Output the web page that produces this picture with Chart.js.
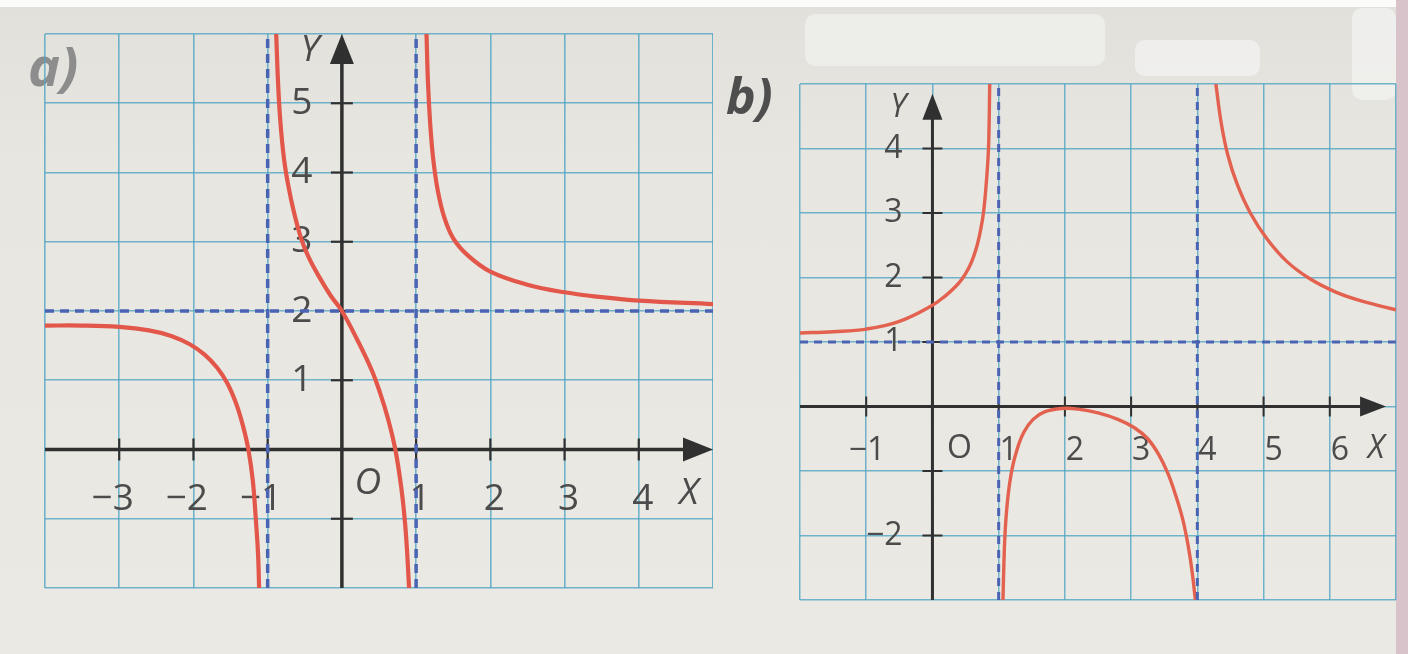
<!DOCTYPE html>
<html><head><meta charset="utf-8">
<script src="https://cdn.jsdelivr.net/npm/chart.js@4.4.1/dist/chart.umd.min.js"></script>
<style>
html,body{margin:0;padding:0;}
body{width:1408px;height:654px;position:relative;overflow:hidden;
  background:linear-gradient(180deg,#e1e0db 0%,#e7e6e1 25%,#eae9e4 100%);
  font-family:"Open Sans","Noto Sans",sans-serif;}
.wrap{position:absolute;}
.lbl{position:absolute;font-weight:700;font-style:italic;line-height:1;}
.blob{position:absolute;background:#f0f0ed;border-radius:10px;}
</style></head><body>
<div class="blob" style="left:0;top:0;width:1408px;height:7px;border-radius:0;background:#fbfbfa"></div>
<div class="blob" style="left:805px;top:14px;width:300px;height:52px;opacity:0.75"></div>
<div class="blob" style="left:1135px;top:40px;width:125px;height:36px;opacity:0.9"></div>
<div class="blob" style="left:1352px;top:8px;width:44px;height:92px;opacity:0.9"></div>
<div class="blob" style="left:1396px;top:0;width:12px;height:654px;border-radius:0;background:#d9c3cb"></div>
<div class="lbl" style="left:28px;top:38px;font-size:54px;color:#8d8d8d;">a)</div>
<div class="lbl" style="left:726px;top:70px;font-size:50px;color:#4e4e4e;">b)</div>
<div class="wrap" style="left:33px;top:22px;"><canvas id="ca" width="680" height="578"></canvas></div>
<div class="wrap" style="left:788px;top:72px;"><canvas id="cb" width="620" height="540"></canvas></div>
<script>
// ---------- data: chart a ----------
const aXRange = [-4, 5];
const aYRange = [-2, 6];
const aAsymX = [-1, 1];
const aAsymY = [2];
const aLeftX  = [-4, -3.5, -3, -2.6, -2.3, -2.05, -1.85, -1.68, -1.54, -1.42, -1.33, -1.26, -1.2, -1.16, -1.13, -1.115];
const aLeftY  = [1.79, 1.79, 1.77, 1.72, 1.64, 1.52, 1.37, 1.18, 0.95, 0.65, 0.33, 0, -0.45, -1, -1.5, -2];
const aMidX   = [-0.885, -0.86, -0.83, -0.78, -0.72, -0.64, -0.55, -0.45, -0.31, -0.15, 0, 0.2, 0.4, 0.52, 0.62, 0.72, 0.8, 0.85, 0.88, 0.905];
const aMidY   = [6, 5.3, 4.75, 4.2, 3.8, 3.4, 3.05, 2.78, 2.5, 2.22, 2, 1.6, 1.15, 0.8, 0.45, 0, -0.55, -1.05, -1.5, -2];
const aRightX = [1.14, 1.16, 1.19, 1.23, 1.29, 1.38, 1.5, 1.7, 2, 2.5, 3, 3.5, 4, 5];
const aRightY = [6, 5.3, 4.7, 4.2, 3.75, 3.35, 3.05, 2.8, 2.57, 2.38, 2.27, 2.2, 2.15, 2.1];
const aXTicks = [-3, -2, -1, 1, 2, 3, 4];
const aXTickLabels = ['−3', '−2', '−1', '1', '2', '3', '4'];
const aYTicks = [1, 2, 3, 4, 5];
const aYTickLabels = ['1', '2', '3', '4', '5'];
const aXMarks = [-3, -2, -1, 1, 2, 3, 4];
const aYMarks = [-1, 1, 2, 3, 4, 5];
const aArrowTip = [5, 6];

// ---------- data: chart b ----------
const bXRange = [-2, 7];
const bYRange = [-3, 5];
const bAsymX = [1, 4];
const bAsymY = [1];
const bLeftX  = [-2, -1.5, -1, -0.5, 0, 0.2, 0.35, 0.45, 0.55, 0.62, 0.68, 0.73, 0.77, 0.8, 0.83, 0.85, 0.865];
const bLeftY  = [1.14, 1.16, 1.2, 1.32, 1.57, 1.72, 1.86, 1.98, 2.15, 2.32, 2.52, 2.75, 3.0, 3.3, 3.7, 4.1, 5.0];
const bMidX   = [1.065, 1.08, 1.1, 1.14, 1.2, 1.28, 1.38, 1.52, 1.7, 1.95, 2.2, 2.5, 2.8, 3.05, 3.25, 3.42, 3.56, 3.68, 3.78, 3.86, 3.92, 3.97];
const bMidY   = [-3, -2.4, -1.9, -1.4, -0.98, -0.66, -0.4, -0.2, -0.08, -0.03, -0.04, -0.1, -0.2, -0.33, -0.5, -0.75, -1.05, -1.4, -1.75, -2.15, -2.55, -3];
const bRightX = [4.28, 4.36, 4.46, 4.6, 4.8, 5.05, 5.35, 5.7, 6.1, 6.5, 7];
const bRightY = [5, 4.4, 3.9, 3.45, 3.0, 2.6, 2.25, 1.98, 1.77, 1.63, 1.5];
const bXTicks = [-1, 1, 2, 3, 4, 5, 6];
const bXTickLabels = ['−1', '1', '2', '3', '4', '5', '6'];
const bYTicks = [-2, 1, 2, 3, 4];
const bYTickLabels = ['−2', '1', '2', '3', '4'];
const bXMarks = [-1, 1, 2, 3, 4, 5, 6];
const bYMarks = [-2, -1, 1, 2, 3, 4];
const bArrowTip = [6.85, 4.85];

// ---------- helpers ----------
function pts(xs, ys){ return xs.map((x,i)=>({x:x, y:ys[i]})); }

const decor = {
  id: 'decor',
  beforeDatasetsDraw(chart, args, o){
    const ctx = chart.ctx, xs = chart.scales.x, ys = chart.scales.y;
    const X = v => xs.getPixelForValue(v), Y = v => ys.getPixelForValue(v);
    const x0 = X(0), y0 = Y(0);
    ctx.save();
    ctx.strokeStyle = o.axisColor; ctx.fillStyle = o.axisColor; ctx.lineWidth = o.axisWidth;
    const tipX = X(o.tip[0]), tipY = Y(o.tip[1]);
    ctx.beginPath(); ctx.moveTo(xs.left, y0); ctx.lineTo(tipX - o.arrowLen + 2, y0); ctx.stroke();
    ctx.beginPath(); ctx.moveTo(x0, ys.bottom); ctx.lineTo(x0, tipY + o.arrowLen - 2); ctx.stroke();
    ctx.beginPath(); ctx.moveTo(tipX, y0); ctx.lineTo(tipX - o.arrowLen, y0 - o.arrowHalf); ctx.lineTo(tipX - o.arrowLen, y0 + o.arrowHalf); ctx.closePath(); ctx.fill();
    ctx.beginPath(); ctx.moveTo(x0, tipY); ctx.lineTo(x0 - o.arrowHalf, tipY + o.arrowLen); ctx.lineTo(x0 + o.arrowHalf, tipY + o.arrowLen); ctx.closePath(); ctx.fill();
    ctx.lineWidth = o.tickWidth;
    o.xMarks.forEach(v => { ctx.beginPath(); ctx.moveTo(X(v), y0 - o.tickHalf); ctx.lineTo(X(v), y0 + o.tickHalf); ctx.stroke(); });
    o.yMarks.forEach(v => { ctx.beginPath(); ctx.moveTo(x0 - o.tickHalf, Y(v)); ctx.lineTo(x0 + o.tickHalf, Y(v)); ctx.stroke(); });
    ctx.fillStyle = o.textColor;
    ctx.font = o.fontSize + 'px "Open Sans", "Noto Sans", sans-serif';
    ctx.textBaseline = 'middle'; ctx.textAlign = 'right';
    o.xTicks.forEach((v,i) => {
      const t = o.xLabels[i];
      const w = ctx.measureText(t.slice(-1)).width;
      ctx.fillText(t, X(v) + o.xDx + w/2, y0 + o.xDy);
    });
    o.yTicks.forEach((v,i) => {
      const t = o.yLabels[i];
      const w = ctx.measureText(t.slice(-1)).width;
      ctx.fillText(t, x0 + o.yDx + w/2, Y(v));
    });
    ctx.textAlign = 'center';
    ctx.font = (o.italicO ? 'italic ' : '') + o.fontSize + 'px "Open Sans", "Noto Sans", sans-serif';
    ctx.fillText('O', x0 + o.oPos[0], y0 + o.oPos[1]);
    ctx.font = 'italic ' + o.fontSize + 'px "Open Sans", "Noto Sans", sans-serif';
    ctx.fillText('X', tipX + o.xPos[0], y0 + o.xPos[1]);
    ctx.fillText('Y', x0 + o.yPos[0], tipY + o.yPos[1]);
    ctx.restore();
  }
};

function makeChart(id, cfg){
  const dsets = [];
  cfg.asymX.forEach(v => dsets.push({data:[{x:v,y:cfg.yr[0]},{x:v,y:cfg.yr[1]}], borderColor:cfg.dashColor, borderWidth:cfg.dashWidth, borderDash:cfg.dash, pointRadius:0, showLine:true}));
  cfg.asymY.forEach(v => dsets.push({data:[{x:cfg.xr[0],y:v},{x:cfg.xr[1],y:v}], borderColor:cfg.dashColor, borderWidth:cfg.dashWidth, borderDash:cfg.dash, pointRadius:0, showLine:true}));
  cfg.curves.forEach(c => dsets.push({data:pts(c[0], c[1]), borderColor:cfg.curveColor, borderWidth:cfg.curveWidth, pointRadius:0, showLine:true, tension:0.4, borderCapStyle:'butt'}));
  return new Chart(document.getElementById(id), {
    type:'scatter',
    data:{datasets:dsets},
    plugins:[decor],
    options:{
      responsive:false, animation:false, devicePixelRatio:1,
      layout:{padding:cfg.pad},
      plugins:{legend:{display:false}, tooltip:{enabled:false}, decor:cfg.decor},
      scales:{
        x:{type:'linear', min:cfg.xr[0], max:cfg.xr[1], ticks:{display:false, stepSize:1}, border:{display:false},
           grid:{color:cfg.gridColor, lineWidth:cfg.gridWidth, drawTicks:false}},
        y:{type:'linear', min:cfg.yr[0], max:cfg.yr[1], ticks:{display:false, stepSize:1}, border:{display:false},
           grid:{color:cfg.gridColor, lineWidth:cfg.gridWidth, drawTicks:false}}
      }
    }
  });
}

makeChart('ca', {
  xr:aXRange, yr:aYRange, asymX:aAsymX, asymY:aAsymY,
  curves:[[aLeftX,aLeftY],[aMidX,aMidY],[aRightX,aRightY]],
  pad:{left:12, right:0, top:12, bottom:12},
  gridColor:'rgba(80,165,195,0.8)', gridWidth:1.6,
  dashColor:'#4a63b3', dashWidth:3.5, dash:[9,6],
  curveColor:'#e2574a', curveWidth:4.2,
  decor:{axisColor:'#303030', axisWidth:3.5, tickWidth:2.2, tickHalf:11, arrowLen:30, arrowHalf:12, tip:aArrowTip,
    xMarks:aXMarks, yMarks:aYMarks, xTicks:aXTicks, xLabels:aXTickLabels, yTicks:aYTicks, yLabels:aYTickLabels,
    textColor:'#4b4b4b', fontSize:37, xDx:4, xDy:50, yDx:-40, oPos:[26,34], italicO:true, xPos:[-24,44], yPos:[-32,16]}
});

makeChart('cb', {
  xr:bXRange, yr:bYRange, asymX:bAsymX, asymY:bAsymY,
  curves:[[bLeftX,bLeftY],[bMidX,bMidY],[bRightX,bRightY]],
  pad:{left:12, right:12, top:12, bottom:12},
  gridColor:'rgba(80,165,195,0.8)', gridWidth:1.5,
  dashColor:'#4a63b3', dashWidth:3, dash:[8,6],
  curveColor:'#e3614f', curveWidth:3.4,
  decor:{axisColor:'#303030', axisWidth:3, tickWidth:2, tickHalf:10, arrowLen:26, arrowHalf:10, tip:bArrowTip,
    xMarks:bXMarks, yMarks:bYMarks, xTicks:bXTicks, xLabels:bXTickLabels, yTicks:bYTicks, yLabels:bYTickLabels,
    textColor:'#4b4b4b', fontSize:32, xDx:10, xDy:44, yDx:-39, oPos:[27,42], italicO:false, xPos:[-10,42], yPos:[-34,14]}
});
</script>
</body></html>
